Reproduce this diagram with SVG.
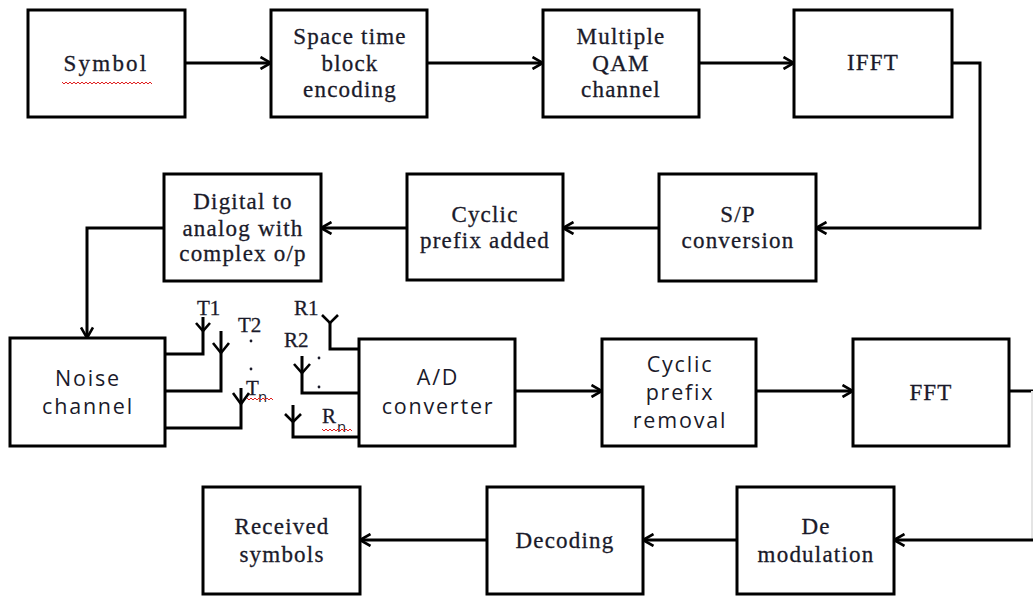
<svg xmlns="http://www.w3.org/2000/svg" width="1033" height="597" viewBox="0 0 1033 597">
<style>
.box{fill:#fff;stroke:#000;stroke-width:3}
.ln{fill:none;stroke:#000;stroke-width:3}
.ant{fill:none;stroke:#000;stroke-width:2.6}
.s{font-family:"Liberation Serif","Times New Roman",serif;font-size:23px;letter-spacing:1.2px;fill:#1a1a2a;stroke:#1a1a2a;stroke-width:0.3;text-anchor:middle}
.ss{font-family:"Open Sans","Liberation Sans",sans-serif;font-size:21.5px;letter-spacing:1.8px;fill:#1a1a2a;text-anchor:middle}
.lb{font-family:"Liberation Serif","Times New Roman",serif;font-size:21px;fill:#1a1a2a;stroke:#1a1a2a;stroke-width:0.3}
.sub{font-family:"Open Sans","Liberation Sans",sans-serif;font-size:15px;fill:#1a1a2a}
.wavy{fill:none;stroke:#e02020;stroke-width:1}
</style>
<defs>
<marker id="ah" viewBox="0 0 14 14" refX="12.5" refY="7" markerWidth="14" markerHeight="14" orient="auto" markerUnits="userSpaceOnUse">
<path d="M2,1 L12.5,7 L2,13" fill="none" stroke="#000" stroke-width="2.6"/>
</marker>
</defs>
<rect width="1033" height="597" fill="#fff"/>

<g id="connectors">
<path class="ln" d="M185,63 H271" marker-end="url(#ah)"/>
<path class="ln" d="M427,63 H543" marker-end="url(#ah)"/>
<path class="ln" d="M699,63 H794" marker-end="url(#ah)"/>
<path class="ln" d="M952,63 H980 V228 H816" marker-end="url(#ah)"/>
<path class="ln" d="M659,228 H563" marker-end="url(#ah)"/>
<path class="ln" d="M407,228 H321" marker-end="url(#ah)"/>
<path class="ln" d="M164,228 H87 V338" marker-end="url(#ah)"/>
<path class="ln" d="M515,391 H602" marker-end="url(#ah)"/>
<path class="ln" d="M756,391 H853" marker-end="url(#ah)"/>
<path class="ln" d="M1009,391 H1033"/>
<path d="M1032,391 V540" fill="none" stroke="#e4e4e4" stroke-width="2"/>
<path class="ln" d="M1033,540 H894" marker-end="url(#ah)"/>
<path class="ln" d="M737,540 H643" marker-end="url(#ah)"/>
<path class="ln" d="M487,540 H360" marker-end="url(#ah)"/>
</g>

<g id="antennas">
<path class="ln" d="M164,354 H203 V317"/>
<path class="ant" d="M196,323 L203,331 L210,323"/>
<path class="ln" d="M164,391 H221 V331"/>
<path class="ant" d="M213,343 L221,353 L229,343"/>
<path class="ln" d="M164,428 H241 V388"/>
<path class="ant" d="M233,393 L241,404 L249,393"/>
<path class="ln" d="M359,349 H330 V322"/>
<path class="ant" d="M322,315 L330,323 L338,315"/>
<path class="ln" d="M359,393 H302 V356"/>
<path class="ant" d="M294,364 L302,373 L310,364"/>
<path class="ln" d="M359,437 H293 V405"/>
<path class="ant" d="M285,414 L293,422 L301,414"/>
<text class="lb" x="197" y="315">T1</text>
<text class="lb" x="238" y="332">T2</text>
<circle cx="251" cy="341" r="1.4" fill="#1a1a2a"/>
<circle cx="251" cy="369" r="1.4" fill="#1a1a2a"/>
<text class="lb" x="246" y="395">T</text>
<text class="sub" x="258" y="402">n</text>
<path class="wavy" d="M247,398 l2,2 l2,-2 l2,2 l2,-2 l2,2 l2,-2 l2,2 l2,-2 l2,2 l2,-2 l2,2 l2,-2 l2,2"/>
<text class="lb" x="294" y="315">R1</text>
<text class="lb" x="284" y="347">R2</text>
<circle cx="319" cy="358" r="1.4" fill="#1a1a2a"/>
<circle cx="319" cy="387" r="1.4" fill="#1a1a2a"/>
<text class="lb" x="322" y="423">R</text>
<text class="sub" x="337" y="432">n</text>
<path class="wavy" d="M322,429 l2,2 l2,-2 l2,2 l2,-2 l2,2 l2,-2 l2,2 l2,-2 l2,2 l2,-2 l2,2 l2,-2 l2,2 l2,-2 l2,2"/>
</g>

<g id="symbol">
<rect class="box" x="28" y="10" width="157" height="107"/>
<text class="s" x="106" y="71" style="letter-spacing:2.2px">Symbol</text>
<path class="wavy" d="M62,82 l2,2 l2,-2 l2,2 l2,-2 l2,2 l2,-2 l2,2 l2,-2 l2,2 l2,-2 l2,2 l2,-2 l2,2 l2,-2 l2,2 l2,-2 l2,2 l2,-2 l2,2 l2,-2 l2,2 l2,-2 l2,2 l2,-2 l2,2 l2,-2 l2,2 l2,-2 l2,2 l2,-2 l2,2 l2,-2 l2,2 l2,-2 l2,2 l2,-2 l2,2 l2,-2 l2,2 l2,-2 l2,2 l2,-2 l2,2 l2,-2 l2,2"/>
</g>
<g id="stbc">
<rect class="box" x="271" y="10" width="156" height="107"/>
<text class="s" x="350" y="44">Space time</text>
<text class="s" x="350" y="71">block</text>
<text class="s" x="350" y="97">encoding</text>
</g>
<g id="qam">
<rect class="box" x="543" y="10" width="156" height="107"/>
<text class="s" x="621" y="44">Multiple</text>
<text class="s" x="621" y="71">QAM</text>
<text class="s" x="621" y="97">channel</text>
</g>
<g id="ifft">
<rect class="box" x="794" y="10" width="158" height="107"/>
<text class="s" x="873" y="70">IFFT</text>
</g>
<g id="sp">
<rect class="box" x="659" y="174" width="157" height="107"/>
<text class="s" x="738" y="222">S/P</text>
<text class="s" x="738" y="248">conversion</text>
</g>
<g id="cpadd">
<rect class="box" x="407" y="174" width="156" height="106"/>
<text class="s" x="485" y="222">Cyclic</text>
<text class="s" x="485" y="248">prefix added</text>
</g>
<g id="dac">
<rect class="box" x="164" y="174" width="157" height="107"/>
<text class="s" x="243" y="209">Digital to</text>
<text class="s" x="243" y="236">analog with</text>
<text class="s" x="243" y="261">complex o/p</text>
</g>
<g id="noise">
<rect class="box" x="10" y="338" width="155" height="108"/>
<text class="ss" x="88" y="386">Noise</text>
<text class="ss" x="88" y="414">channel</text>
</g>
<g id="adc">
<rect class="box" x="359" y="339" width="156" height="107"/>
<text class="ss" x="438" y="385">A/D</text>
<text class="ss" x="438" y="414">converter</text>
</g>
<g id="cprem">
<rect class="box" x="602" y="339" width="154" height="107"/>
<text class="ss" x="680" y="372">Cyclic</text>
<text class="ss" x="680" y="400">prefix</text>
<text class="ss" x="680" y="428">removal</text>
</g>
<g id="fft">
<rect class="box" x="853" y="339" width="156" height="107"/>
<text class="s" x="931" y="400">FFT</text>
</g>
<g id="demod">
<rect class="box" x="737" y="487" width="157" height="107"/>
<text class="s" x="816" y="534">De</text>
<text class="s" x="816" y="562">modulation</text>
</g>
<g id="decoding">
<rect class="box" x="487" y="487" width="156" height="107"/>
<text class="s" x="565" y="548">Decoding</text>
</g>
<g id="received">
<rect class="box" x="203" y="487" width="157" height="107"/>
<text class="s" x="282" y="534">Received</text>
<text class="s" x="282" y="562">symbols</text>
</g>
</svg>
